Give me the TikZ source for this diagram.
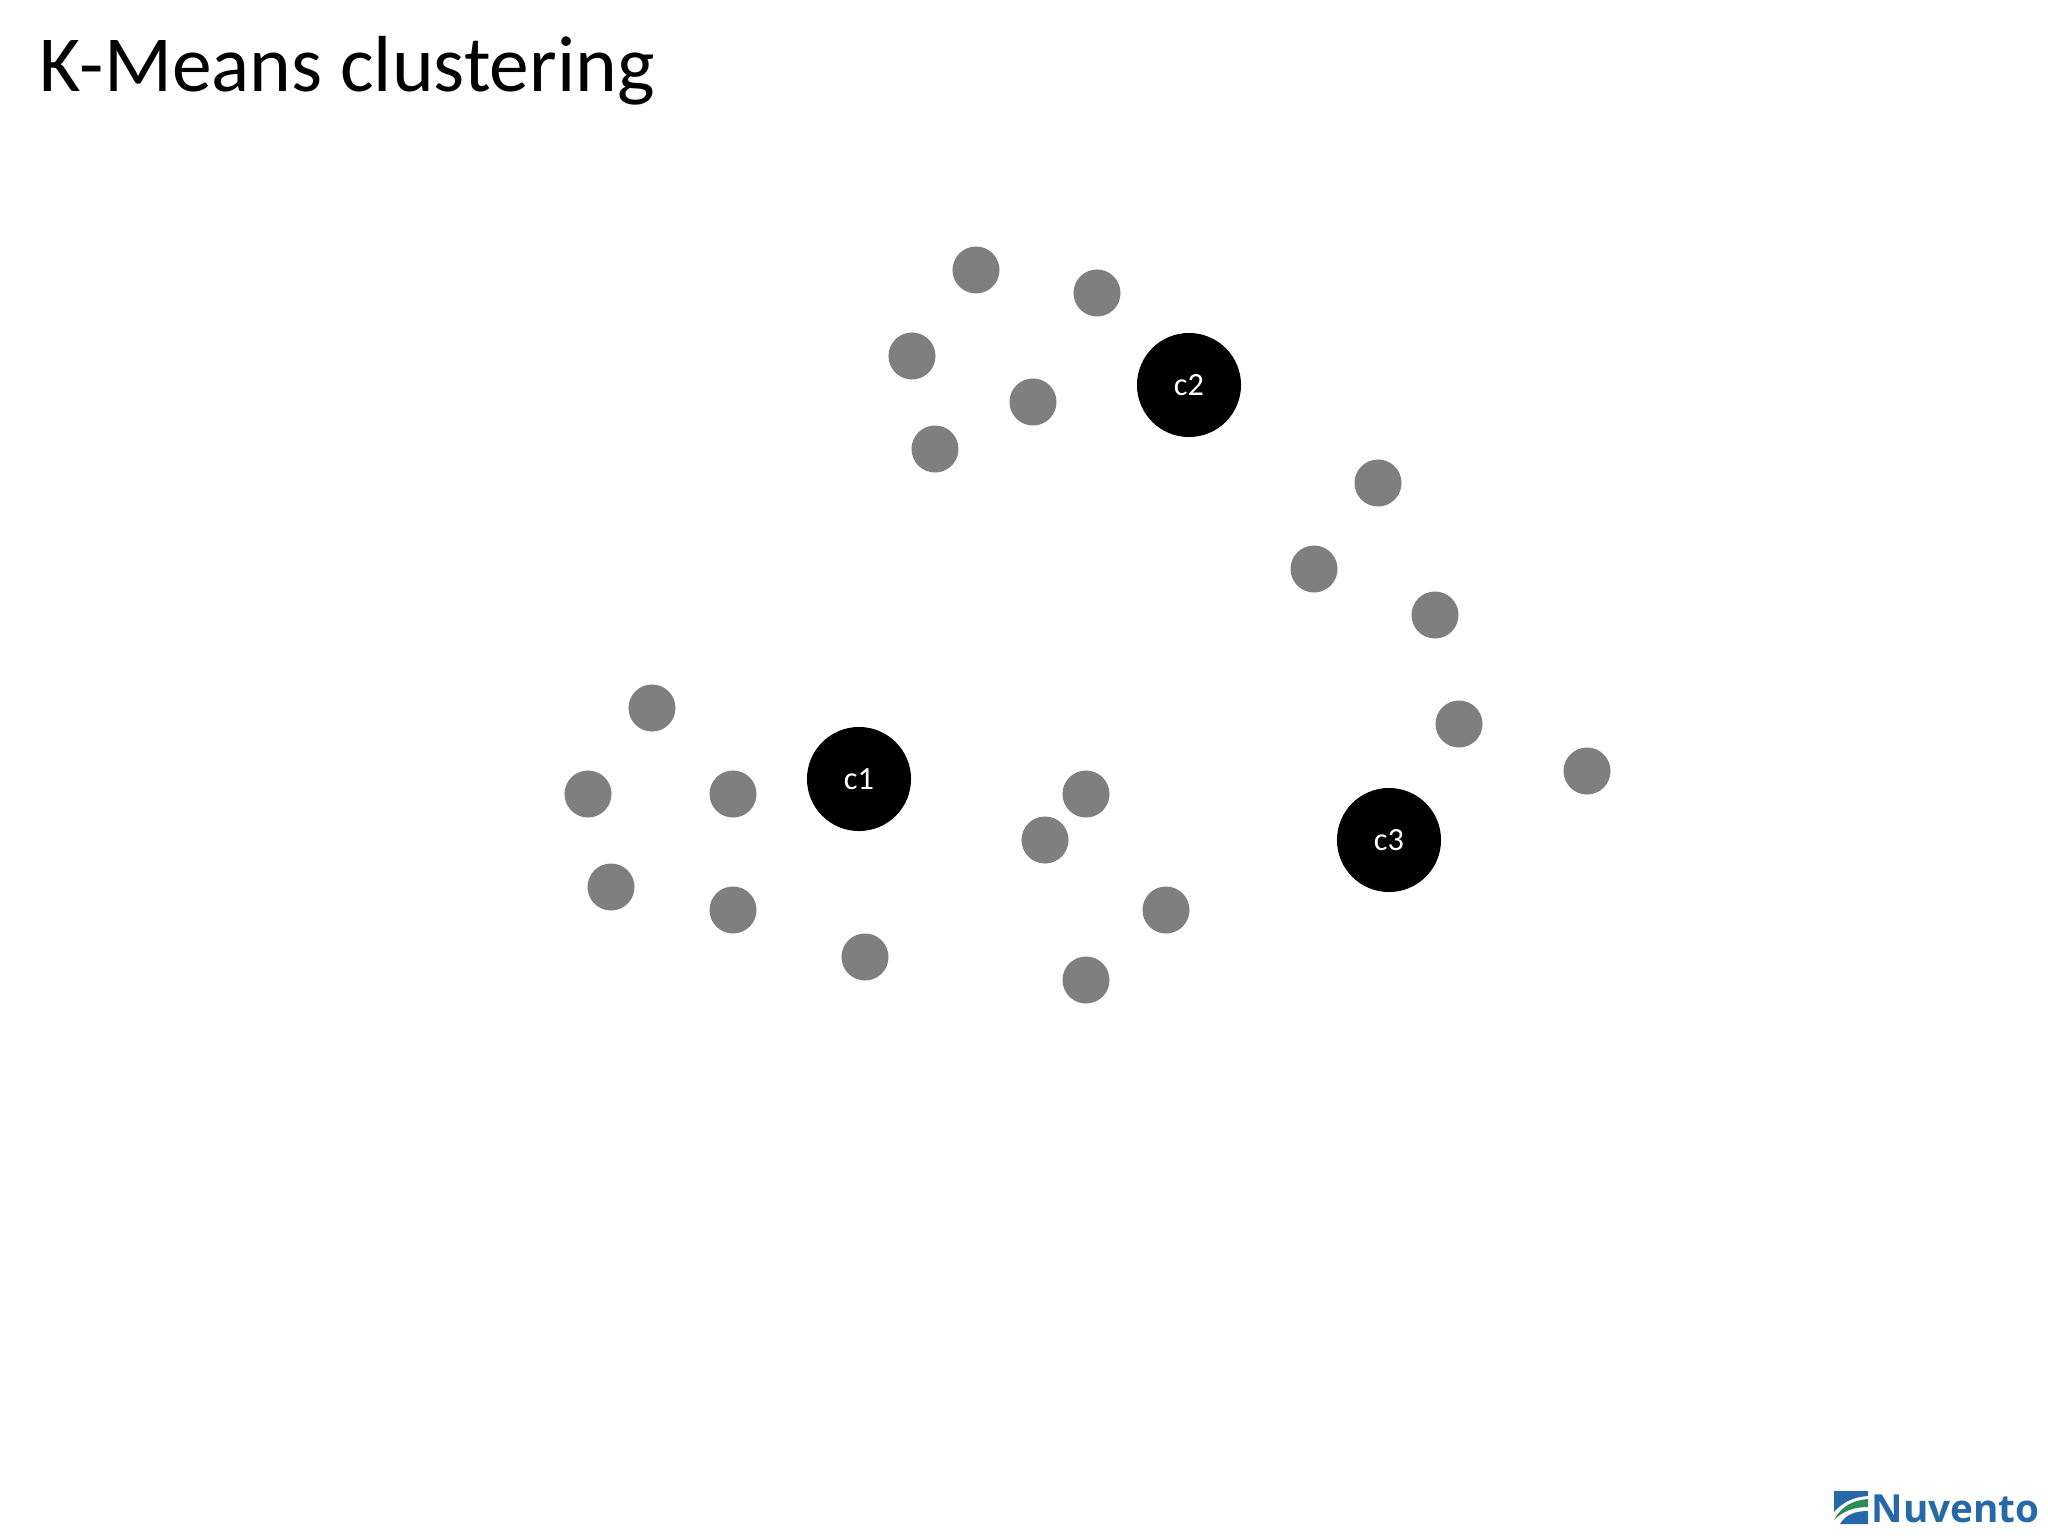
\documentclass[tikz,border=0pt]{standalone}
\usepackage{fontspec,xcolor}
\setmainfont{Carlito}
\newfontfamily\logofont{Open Sans}
\definecolor{ptgray}{RGB}{127,127,127}
\definecolor{logoblue}{RGB}{38,104,168}
\definecolor{logogreen}{RGB}{46,140,84}
\begin{document}
\begin{tikzpicture}[x=0.01cm,y=-0.01cm,
 p/.style={circle,fill=ptgray,inner sep=0pt,minimum size=4.7mm},
 c/.style={circle,fill=black,text=white,inner sep=0pt,minimum size=10.4mm,font=\fontsize{9.2}{10}\selectfont}]
\useasboundingbox (0,0) rectangle (2048,1536);
\node[anchor=base west,inner sep=0pt,font=\fontsize{22.6}{26}\selectfont] (title) at (39,91) {K-Means clustering};
% top group
\node[p] (p1) at (976,270) {};
\node[p] (p2) at (1097,293) {};
\node[p] (p3) at (912,356) {};
\node[p] (p4) at (1033,402) {};
\node[p] (p5) at (935,449) {};
% right group
\node[p] (p6) at (1378,483) {};
\node[p] (p7) at (1314,569) {};
\node[p] (p8) at (1435,615) {};
\node[p] (p9) at (1459,724) {};
\node[p] (p10) at (1587,771) {};
% left group
\node[p] (p11) at (652,708) {};
\node[p] (p12) at (588,794) {};
\node[p] (p13) at (733,794) {};
\node[p] (p14) at (611,887) {};
\node[p] (p15) at (733,910) {};
\node[p] (p16) at (865,957) {};
% middle group
\node[p] (p17) at (1086,794) {};
\node[p] (p18) at (1045,840) {};
\node[p] (p19) at (1166,910) {};
\node[p] (p20) at (1086,980) {};
% centroids
\node[c] (c1) at (859,779) {c1};
\node[c] (c2) at (1189,385) {c2};
\node[c] (c3) at (1389,840) {c3};
% logo
\fill[logoblue] (1834,1491) -- (1868,1491) -- (1868,1496) .. controls (1852,1497) and (1842,1503) .. (1834,1512) -- cycle;
\fill[logogreen] (1834,1520) .. controls (1841,1506) and (1854,1500) .. (1868,1499) -- (1868,1507) .. controls (1854,1507) and (1843,1511) .. (1834,1520) -- cycle;
\fill[logoblue] (1840,1524) .. controls (1846,1514) and (1856,1511) .. (1868,1511) -- (1868,1524) -- cycle;
\node[anchor=base west,inner sep=0pt,text=logoblue,font=\logofont\bfseries\fontsize{11}{14}\selectfont] (logo) at (1871,1522) {Nuvento};
\end{tikzpicture}
\end{document}
